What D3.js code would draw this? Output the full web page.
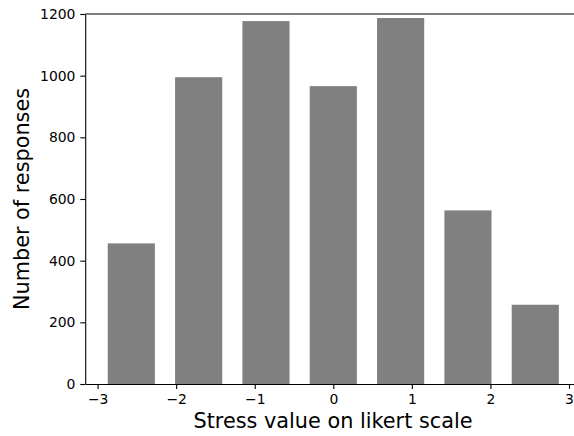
<!DOCTYPE html>
<html><head><meta charset="utf-8">
<script src="https://cdn.jsdelivr.net/npm/d3@7"></script>
<style>body{margin:0;background:#fff}svg{display:block}text{font-family:"DejaVu Sans",sans-serif}</style>
</head><body><svg id="c" width="574" height="436"></svg>
<script>
const binCenters = [-2.571, -1.714, -0.857, 0, 0.857, 1.714, 2.571];
const counts = [456, 995, 1177, 966, 1187, 563, 257];
const xTicks = [-3, -2, -1, 0, 1, 2, 3];
const yTicks = [0, 200, 400, 600, 800, 1000, 1200];
const barWidth = 0.6;

const svg = d3.select("#c");
const x = d3.scaleLinear().domain([-3.158, 3.158]).range([85.2, 581.4]);
const y = d3.scaleLinear().domain([0, 1200]).range([384, 14]);

svg.append("g").selectAll("rect").data(binCenters).join("rect")
  .attr("x", (d) => x(d - barWidth/2))
  .attr("width", (d) => x(d + barWidth/2) - x(d - barWidth/2))
  .attr("y", (d,i) => y(counts[i]))
  .attr("height", (d,i) => y(0) - y(counts[i]))
  .attr("fill", "#808080");

const fmt = d => String(d).replace("-", "\u2212");
const xa = svg.append("g").attr("transform", "translate(0,384)")
  .call(d3.axisBottom(x).tickValues(xTicks).tickFormat(fmt).tickSizeInner(4.9).tickSizeOuter(0).tickPadding(4.9));
const ya = svg.append("g").attr("transform", "translate(85.2,0)")
  .call(d3.axisLeft(y).tickValues(yTicks).tickFormat(d => String(d)).tickSizeInner(4.9).tickSizeOuter(0).tickPadding(4.9));
[xa, ya].forEach(a => {
  a.selectAll("text").attr("font-size", "13.9px").attr("fill", "#000").attr("font-family", "DejaVu Sans");
  a.selectAll("line").attr("stroke", "#000").attr("stroke-width", 1.1);
  a.select(".domain").attr("stroke", "#000").attr("stroke-width", 1.1);
});
// top spine
svg.append("line").attr("x1", 85.2).attr("x2", 581.4).attr("y1", 14).attr("y2", 14)
  .attr("stroke", "#000").attr("stroke-width", 1.1);

svg.append("text").attr("x", 333).attr("y", 428).attr("text-anchor", "middle")
  .attr("font-size", "20.8px").text("Stress value on likert scale");
svg.append("text").attr("transform", "translate(29,199) rotate(-90)").attr("text-anchor", "middle")
  .attr("font-size", "20.8px").text("Number of responses");
</script></body></html>
